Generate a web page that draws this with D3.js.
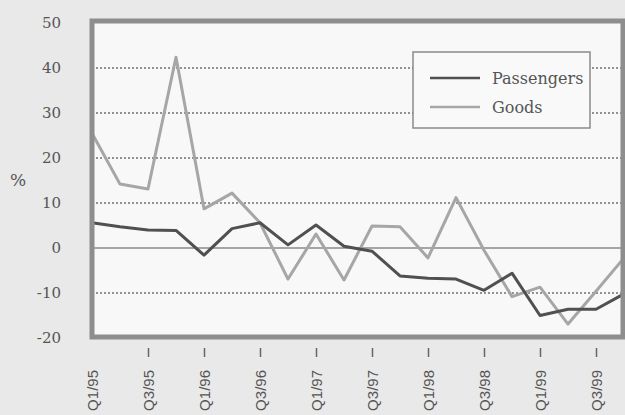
<!DOCTYPE html>
<html>
<head>
<meta charset="utf-8">
<script src="https://cdn.jsdelivr.net/npm/d3@7"></script>
<style>
	body { margin: 0; background: #e9e9e9; }
	svg { display: block; }
</style>
</head>
<body>
<div id="chart"></div>
<script>
	// quarterly % change
	var quarters = ['Q1/95', 'Q2/95', 'Q3/95', 'Q4/95', 'Q1/96', 'Q2/96', 'Q3/96', 'Q4/96',
		'Q1/97', 'Q2/97', 'Q3/97', 'Q4/97', 'Q1/98', 'Q2/98', 'Q3/98', 'Q4/98',
		'Q1/99', 'Q2/99', 'Q3/99', 'Q4/99'];
	var passengers = [5.6, 4.7, 4.0, 3.9, -1.6, 4.3, 5.6, 0.7, 5.1, 0.4, -0.7, -6.2,
		-6.7, -6.9, -9.4, -5.6, -15.0, -13.6, -13.6, -10.2];
	var goods = [25.5, 14.2, 13.1, 42.4, 8.7, 12.2, 5.6, -6.9, 3.1, -7.1, 4.9, 4.7,
		-2.2, 11.2, -0.5, -10.8, -8.7, -16.9, -9.6, -2.2];
	var yTicks = [50, 40, 30, 20, 10, 0, -10, -20];
	var gridVals = [40, 30, 20, 10, -10];
	var seriesNames = ['Passengers', 'Goods'];

	var W = 625, H = 415;
	var frame = { left: 92, top: 23, right: 623, bottom: 338 };
	var colors = { Passengers: '#505050', Goods: '#a6a6a6' };

	var svg = d3.select('#chart').append('svg')
		.attr('width', W)
		.attr('height', H);

	var x = d3.scaleLinear()
		.domain([0, quarters.length - 1])
		.range([frame.left, frame.left + 28 * (quarters.length - 1)]);
	var y = d3.scaleLinear()
		.domain([-20, 50])
		.range([frame.bottom, frame.top]);

	// plot background
	svg.append('rect')
		.attr('x', frame.left)
		.attr('y', frame.top)
		.attr('width', frame.right - frame.left)
		.attr('height', frame.bottom - frame.top)
		.attr('fill', '#f8f8f8');

	// dotted grid
	svg.append('g')
		.selectAll('line')
		.data(gridVals)
		.enter().append('line')
		.attr('x1', frame.left)
		.attr('x2', frame.right)
		.attr('y1', d => y(d))
		.attr('y2', d => y(d))
		.attr('stroke', '#707070')
		.attr('stroke-width', 1.5)
		.attr('stroke-dasharray', '2,2');

	// zero line
	svg.append('line')
		.attr('x1', frame.left)
		.attr('x2', frame.right)
		.attr('y1', y(0))
		.attr('y2', y(0))
		.attr('stroke', '#8a8a8a')
		.attr('stroke-width', 1.5);

	// y labels
	svg.append('g')
		.attr('transform', 'translate(61,0)')
		.call(d3.axisLeft(y).tickValues(yTicks).tickSize(0).tickPadding(0).tickFormat(d => String(d)))
		.call(g => {
			g.select('.domain').remove();
			g.selectAll('text')
				.attr('font-family', '"DejaVu Serif", serif')
				.attr('font-size', 15)
				.attr('fill', '#555');
		});

	svg.append('text')
		.attr('x', 10)
		.attr('y', 186)
		.attr('font-family', '"DejaVu Serif", serif')
		.attr('font-size', 17)
		.attr('fill', '#555')
		.text('%');

	// x axis: ticks every half year
	var evenIdx = d3.range(0, quarters.length, 2);
	svg.append('g')
		.attr('transform', 'translate(0,348)')
		.call(d3.axisBottom(x).tickValues(evenIdx).tickSize(9).tickFormat(i => quarters[i]))
		.call(g => {
			g.select('.domain').remove();
			g.selectAll('.tick line').attr('stroke', '#666').attr('stroke-width', 1.5);
			g.select('.tick:first-of-type line').remove();
			g.selectAll('text')
				.attr('font-family', '"Liberation Sans", Arial, sans-serif')
				.attr('font-size', 15)
				.attr('fill', '#555')
				.attr('text-anchor', 'end')
				.attr('transform', 'rotate(-90)')
				.attr('x', -22)
				.attr('y', 0)
				.attr('dy', '0.36em');
		});

	// series
	var line = d3.line()
		.x((d, i) => x(i))
		.y(d => y(d));

	svg.append('path')
		.datum(goods)
		.attr('d', line)
		.attr('fill', 'none')
		.attr('stroke', colors.Goods)
		.attr('stroke-width', 3)
		.attr('stroke-linejoin', 'round');
	svg.append('path')
		.datum(passengers)
		.attr('d', line)
		.attr('fill', 'none')
		.attr('stroke', colors.Passengers)
		.attr('stroke-width', 3)
		.attr('stroke-linejoin', 'round');

	// frame
	svg.append('rect')
		.attr('x', frame.left)
		.attr('y', frame.top - 2)
		.attr('width', frame.right - frame.left)
		.attr('height', frame.bottom - frame.top + 1)
		.attr('fill', 'none')
		.attr('stroke', '#8e8e8e')
		.attr('stroke-width', 5);

	// legend
	var legend = svg.append('g').attr('transform', 'translate(413,52)');
	legend.append('rect')
		.attr('width', 177)
		.attr('height', 76)
		.attr('fill', '#f9f9f9')
		.attr('stroke', '#8a8a8a')
		.attr('stroke-width', 1.5);
	var items = legend.selectAll('g.item')
		.data(seriesNames)
		.enter().append('g')
		.attr('class', 'item')
		.attr('transform', (d, i) => 'translate(0,' + (26 + i * 29) + ')');
	items.append('line')
		.attr('x1', 17)
		.attr('x2', 67)
		.attr('stroke', d => colors[d])
		.attr('stroke-width', 2.5);
	items.append('text')
		.attr('x', 79)
		.attr('dy', '0.35em')
		.attr('font-family', '"DejaVu Serif", serif')
		.attr('font-size', 16)
		.attr('fill', '#555')
		.text(d => d);
</script>
</body>
</html>
